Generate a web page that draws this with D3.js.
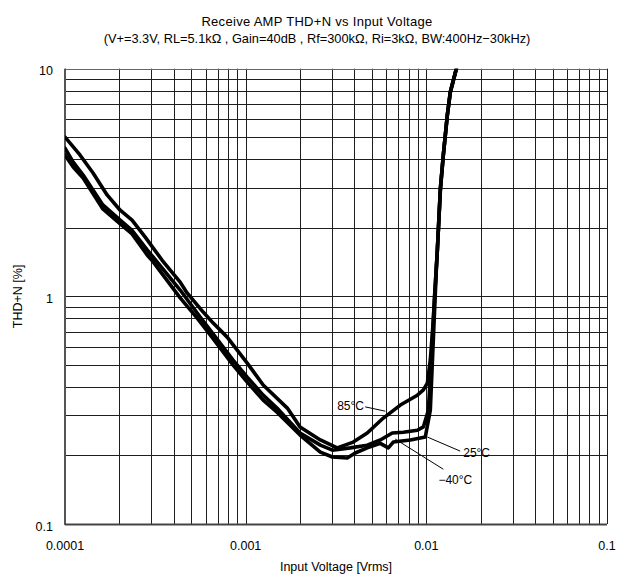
<!DOCTYPE html>
<html><head><meta charset="utf-8">
<script src="https://cdn.jsdelivr.net/npm/d3@7"></script>
<style>body{margin:0;background:#fff}svg{display:block}</style>
</head><body><svg id="c" width="617" height="577"></svg>
<script>
// ---- data ----
const titleLine1 = "Receive AMP THD+N vs Input Voltage";
const titleLine2 = "(V+=3.3V, RL=5.1k\u03A9 , Gain=40dB , Rf=300k\u03A9, Ri=3k\u03A9, BW:400Hz\u221230kHz)";
const xAxisTitle = "Input Voltage [Vrms]";
const yAxisTitle = "THD+N [%]";
const xTickValues = [0.0001, 0.001, 0.01, 0.1];
const xTickLabels = ["0.0001", "0.001", "0.01", "0.1"];
const yTickValues = [0.1, 1, 10];
const yTickLabels = ["0.1", "1", "10"];
const seriesNames = ["85\u00B0C", "25\u00B0C", "\u221240\u00B0C"];

const v85 = [0.0001,0.000121,0.000143,0.000171,0.000202,0.000235,0.000278,0.000345,0.000434,0.000474,0.000582,0.000661,0.00079,0.00102,0.00125,0.0017,0.0020,0.00259,0.00321,0.00394,0.00471,0.00578,0.00718,0.00892,0.00963,0.01013,0.01052,0.01093,0.01151,0.01196,0.01242,0.01307,0.01358,0.01466];
const thd85 = [5.01,4.18,3.48,2.79,2.39,2.16,1.82,1.44,1.155,1.035,0.853,0.763,0.662,0.509,0.408,0.323,0.267,0.234,0.216,0.229,0.251,0.292,0.333,0.368,0.388,0.416,0.525,0.787,1.6,2.99,4.18,6.26,7.9,10];

const v25 = [0.0001,0.000111,0.000126,0.000162,0.000202,0.000235,0.000285,0.000307,0.000434,0.000539,0.000612,0.000722,0.000852,0.00102,0.00125,0.00149,0.0020,0.00259,0.00302,0.00379,0.00471,0.00556,0.00648,0.00746,0.00892,0.00963,0.01026,0.01066,0.01107,0.01151,0.01196,0.01242,0.01307,0.01358,0.01466];
const thd25 = [4.48,3.89,3.41,2.52,2.16,1.95,1.60,1.49,1.066,0.845,0.741,0.624,0.525,0.442,0.368,0.323,0.251,0.222,0.211,0.216,0.222,0.234,0.251,0.253,0.258,0.267,0.316,0.525,0.963,1.6,2.99,4.18,6.26,7.9,10];

const vm40 = [0.0001,0.000111,0.000126,0.000162,0.000202,0.000235,0.000285,0.000307,0.000434,0.000539,0.000612,0.000722,0.000852,0.00102,0.00125,0.00149,0.0020,0.00259,0.00302,0.00365,0.00404,0.00471,0.00556,0.00616,0.00656,0.00816,0.00987,0.01052,0.01093,0.01136,0.01196,0.01242,0.01307,0.01358,0.01466];
const thdm40 = [4.18,3.70,3.31,2.42,2.08,1.88,1.52,1.42,0.984,0.803,0.705,0.593,0.499,0.420,0.350,0.310,0.246,0.207,0.197,0.195,0.205,0.216,0.226,0.216,0.229,0.234,0.241,0.316,0.642,1.31,2.9,4.18,6.26,7.9,10];

// label anchor (text start) and leader line [from, to] in data units
const labelPos = [[0.00321, 0.316], [0.0160, 0.197], [0.01166, 0.150]];
const leaderFrom = [[0.00459, 0.327], [0.01013, 0.241], [0.00673, 0.236]];
const leaderTo = [[0.00593, 0.313], [0.0154, 0.209], [0.01242, 0.174]];

// ---- chart ----
const svg = d3.select("#c");
const L = 65, R = 607, T = 68.7, B = 524;
const x = d3.scaleLog().domain([0.0001, 0.1]).range([L, R]);
const y = d3.scaleLog().domain([0.1, 10]).range([B, T]);
const font = "'Liberation Sans', Arial, sans-serif";

// grid
const xGrid = [], yGrid = [];
[0.0001, 0.001, 0.01].forEach(d => { for (let k = 1; k <= 9; k++) xGrid.push(d * k); });
xGrid.push(0.1);
[0.1, 1].forEach(d => { for (let k = 1; k <= 9; k++) yGrid.push(d * k); });
yGrid.push(10);

const g = svg.append("g");
g.selectAll("line.vx").data(xGrid).join("line")
  .attr("x1", d => Math.round(x(d)) + 0.5).attr("x2", d => Math.round(x(d)) + 0.5)
  .attr("y1", T).attr("y2", B)
  .attr("stroke", "#1e1e1e").attr("stroke-width", 1);
g.selectAll("line.hy").data(yGrid).join("line")
  .attr("y1", d => Math.round(y(d)) + 0.5).attr("y2", d => Math.round(y(d)) + 0.5)
  .attr("x1", L).attr("x2", R)
  .attr("stroke", d => d === 10 ? "#666" : "#1e1e1e").attr("stroke-width", 1);

// frame (left/bottom heavier gray)
svg.append("line").attr("x1", L).attr("x2", L).attr("y1", T).attr("y2", B + 1)
  .attr("stroke", "#555").attr("stroke-width", 2);
svg.append("line").attr("x1", L).attr("x2", R).attr("y1", B + 0.5).attr("y2", B + 0.5)
  .attr("stroke", "#444").attr("stroke-width", 2);

// clip
svg.append("clipPath").attr("id", "clip").append("rect")
  .attr("x", L).attr("y", T).attr("width", R - L).attr("height", B - T);

const line = d3.line().x(d => x(d[0])).y(d => y(d[1])).curve(d3.curveLinear);
const series = [
  d3.zip(v85, thd85),
  d3.zip(v25, thd25),
  d3.zip(vm40, thdm40)
];
svg.append("g").attr("clip-path", "url(#clip)")
  .selectAll("path").data(series).join("path")
  .attr("d", line)
  .attr("fill", "none").attr("stroke", "#000").attr("stroke-width", 3.6)
  .attr("stroke-linejoin", "round").attr("stroke-linecap", "round");

// leaders
svg.append("g").selectAll("line").data(d3.range(3)).join("line")
  .attr("x1", i => x(leaderFrom[i][0])).attr("y1", i => y(leaderFrom[i][1]))
  .attr("x2", i => x(leaderTo[i][0])).attr("y2", i => y(leaderTo[i][1]))
  .attr("stroke", "#000").attr("stroke-width", 1);
svg.append("g").selectAll("text").data(d3.range(3)).join("text")
  .attr("x", i => x(labelPos[i][0])).attr("y", i => y(labelPos[i][1]))
  .attr("font-family", font).attr("font-size", 12).attr("fill", "#000")
  .text(i => seriesNames[i]);

// tick labels
svg.append("g").selectAll("text").data(xTickValues).join("text")
  .attr("x", d => x(d)).attr("y", B + 26)
  .attr("text-anchor", "middle").attr("font-family", font).attr("font-size", 12.5)
  .text((d, i) => xTickLabels[i]);
svg.append("g").selectAll("text").data(yTickValues).join("text")
  .attr("x", L - 12).attr("y", d => y(d) + 6.5)
  .attr("text-anchor", "end").attr("font-family", font).attr("font-size", 12.5)
  .text((d, i) => yTickLabels[i]);

// titles
svg.append("text").attr("x", 317).attr("y", 26).attr("text-anchor", "middle")
  .attr("font-family", font).attr("font-size", 13).attr("letter-spacing", 0.3).text(titleLine1);
svg.append("text").attr("x", 317).attr("y", 43).attr("text-anchor", "middle")
  .attr("font-family", font).attr("font-size", 12.8).text(titleLine2);
svg.append("text").attr("x", (L + R) / 2).attr("y", 571).attr("text-anchor", "middle")
  .attr("font-family", font).attr("font-size", 12.5).text(xAxisTitle);
svg.append("text").attr("transform", `translate(22,${(T + B) / 2}) rotate(-90)`)
  .attr("text-anchor", "middle").attr("font-family", font).attr("font-size", 12.5).text(yAxisTitle);
</script></body></html>
